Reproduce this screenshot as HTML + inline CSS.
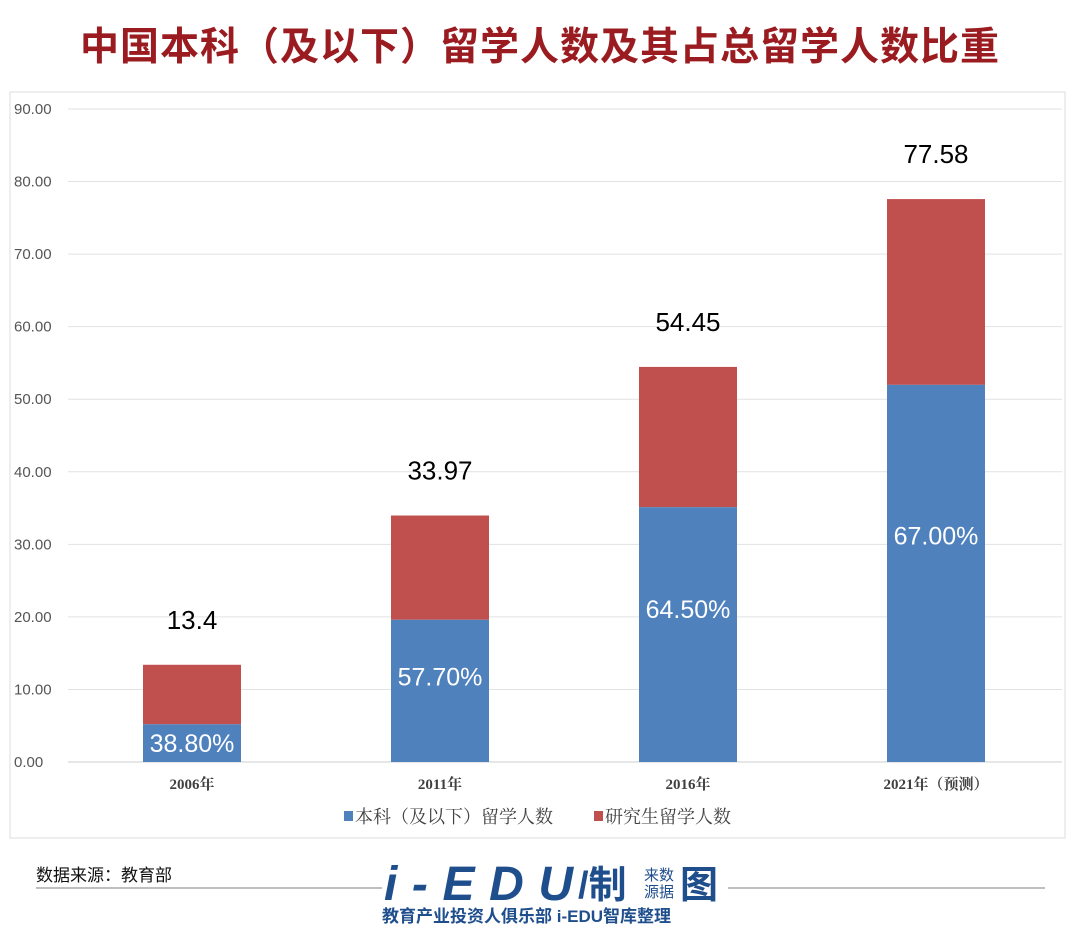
<!DOCTYPE html>
<html><head><meta charset="utf-8">
<style>
body{margin:0;width:1080px;height:940px;background:#fff;overflow:hidden;font-family:"Liberation Sans","Noto Sans CJK SC",sans-serif;}
#title{position:absolute;left:0;top:16px;width:1080px;text-align:center;font-size:39px;font-weight:bold;color:#9b1c20;font-family:"Noto Sans CJK SC",sans-serif;letter-spacing:1px;}
svg{position:absolute;left:0;top:0;}
</style></head><body>
<div id="title">中国本科（及以下）留学人数及其占总留学人数比重</div>
<svg id="chart" width="1080" height="940"></svg>
<script>
const categories=["2006年","2011年","2016年","2021年（预测）"];
const totals=[13.4,33.97,54.45,77.58];
const pcts=[38.8,57.7,64.5,67.0];
const totalLabels=["13.4","33.97","54.45","77.58"];
const yTicks=[0,10,20,30,40,50,60,70,80,90];
const NS="http://www.w3.org/2000/svg";
const svg=document.getElementById('chart');
const x0=68,band=248,bw=98,y0=762,ppu=7.256;
const y=v=>y0-v*ppu;
const xc=i=>x0+band*i+band/2;
function mk(t,a,txt){const e=document.createElementNS(NS,t);for(const k in a)e.setAttribute(k,a[k]);if(txt!=null)e.textContent=txt;svg.appendChild(e);return e;}
let e=mk('rect',{x:10,y:92,width:1055,height:746,fill:'none',stroke:'#ddd','stroke-width':1});

yTicks.forEach(t=>{
 let g=mk('line',{x1:68,x2:1062,y1:y(t),y2:y(t),stroke:t===0?'#ccc':'#e2e2e2','stroke-width':1});
 
 let l=mk('text',{x:14,y:y(t)+5,'font-size':15,fill:'#555'},t.toFixed(2));
 
});
categories.forEach((c,i)=>{
 const blue=totals[i]*pcts[i]/100;
 const cx=xc(i);
 let r=mk('rect',{x:cx-bw/2,y:y(totals[i]),width:bw,height:(totals[i]-blue)*ppu,fill:'#c0504d'});
 
 let b=mk('rect',{x:cx-bw/2,y:y(blue),width:bw,height:blue*ppu,fill:'#4f81bd'});
 
 let tl=mk('text',{x:cx,y:y(totals[i])-36,'font-size':26,'text-anchor':'middle',fill:'#000'},totalLabels[i]);
 
 const ly=i===0?y(blue/2):y(blue*0.6);
 let pl=mk('text',{x:cx,y:ly+9,'font-size':25,'text-anchor':'middle',fill:'#fff'},pcts[i].toFixed(2)+'%');
 
 let xl=mk('text',{x:cx,y:789,'font-size':15,'text-anchor':'middle',fill:'#404040','font-weight':'bold','font-family':'"Liberation Serif","Noto Serif CJK SC",serif'},c);
 
});
// legend
let s1=mk('rect',{x:344,y:811,width:9,height:10,fill:'#4f81bd'});
let t1=mk('text',{x:355,y:823,'font-size':18,fill:'#404040','font-family':'"Noto Serif CJK SC",serif'},'本科（及以下）留学人数');
let s2=mk('rect',{x:594,y:811,width:9,height:10,fill:'#c0504d'});
let t2=mk('text',{x:605,y:823,'font-size':18,fill:'#404040','font-family':'"Noto Serif CJK SC",serif'},'研究生留学人数');
// footer
let src=mk('text',{x:36,y:881,'font-size':17,fill:'#111'},'数据来源：教育部');
let fl1=mk('line',{x1:36,x2:382,y1:888,y2:888,stroke:'#aaa','stroke-width':1.5});
let fl2=mk('line',{x1:728,x2:1045,y1:888,y2:888,stroke:'#aaa','stroke-width':1.5});
let lg1=mk('text',{x:384,y:900,'font-size':48,'font-weight':'bold','font-style':'italic',fill:'#1f4e8c','letter-spacing':1,textLength:190},'i-EDU');
let lg2=mk('text',{x:578,y:898,'font-size':38,'font-weight':'bold',fill:'#1f4e8c'},'/制');
let lg3=mk('text',{x:644,y:880,'font-size':15,fill:'#1f4e8c'},'来数');
let lg4=mk('text',{x:644,y:897,'font-size':15,fill:'#1f4e8c'},'源据');
let lg5=mk('text',{x:680,y:898,'font-size':38,'font-weight':'bold',fill:'#1f4e8c'},'图');
let lg6=mk('text',{x:382,y:922,'font-size':17,'font-weight':'bold',fill:'#1f4e8c'},'教育产业投资人俱乐部  i-EDU智库整理');
</script>
</body></html>
